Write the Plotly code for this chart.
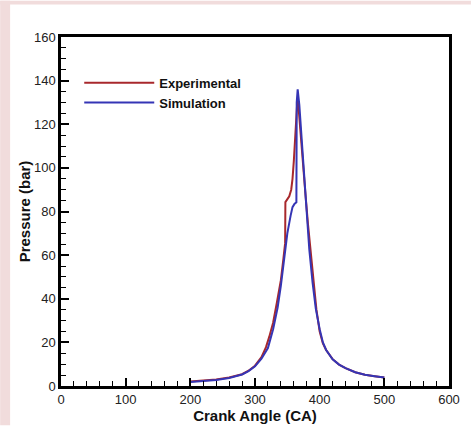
import plotly.graph_objects as go

# Cylinder pressure vs crank angle
sim_ca = [200, 220, 240, 260, 280, 290, 300, 310, 320, 328, 335, 340, 345, 350,
          355, 358, 361, 364, 364.5, 366, 368.5, 371, 374, 377, 380, 384, 389,
          394, 400, 405, 410, 420, 430, 440, 455, 470, 485, 500]
sim_p = [1.8, 2.2, 2.8, 3.7, 5.3, 6.8, 9.0, 12.5, 17.4, 26, 36, 46, 57, 70,
         78, 82, 83.5, 84.2, 130, 136, 129, 118, 103, 91, 79, 62.5, 47.5,
         35.5, 26, 20, 16.5, 12.2, 9.8, 8.2, 6.3, 5.2, 4.5, 3.9]

exp_ca = [200, 220, 240, 260, 280, 290, 300, 310, 317, 322, 328, 334, 340, 344,
          346.6, 347, 350, 353, 356, 358, 360, 361.5, 363.5, 365.5, 367, 370,
          374, 378, 382, 386, 390, 395, 400, 405, 410, 420, 430, 440, 455, 470,
          485, 500]
exp_p = [2.1, 2.4, 3.0, 3.9, 5.4, 7.0, 9.3, 13.2, 17.8, 22.5, 29, 38.5, 48.5, 58.5,
         65.5, 84.3, 85.5, 87, 90, 95, 103, 111, 124, 131, 129, 117,
         102, 88, 74, 61, 48, 35, 25, 19.5, 16.5, 12.3, 9.8, 8.2, 6.3, 5.2,
         4.5, 3.9]

W, H = 472, 432
ML, MR, MT, MB = 61, 22, 37, 40
PW, PH = W - ML - MR, H - MT - MB

fig = go.Figure()
fig.add_trace(go.Scatter(x=exp_ca, y=exp_p, mode="lines", name="Experimental",
                         line=dict(color="#a8282c", width=2)))
fig.add_trace(go.Scatter(x=sim_ca, y=sim_p, mode="lines", name="Simulation",
                         line=dict(color="#3535b5", width=2)))

pink = "#f1dcdc"
# page border strips
fig.add_shape(type="rect", xref="paper", yref="paper",
              x0=-ML / PW, x1=(10 - ML) / PW, y0=-MB / PH, y1=1 + MT / PH,
              fillcolor=pink, line=dict(width=0), layer="below")
fig.add_shape(type="rect", xref="paper", yref="paper",
              x0=-ML / PW, x1=1 + MR / PW, y0=1 + (MT - 4) / PH, y1=1 + MT / PH,
              fillcolor=pink, line=dict(width=0), layer="below")

axis_font = dict(family="Liberation Sans, Arial, sans-serif", size=13, color="#222")
title_font = dict(family="Liberation Sans, Arial, sans-serif", size=15, color="#111",
                  weight="bold")

fig.update_layout(
    width=W, height=H,
    margin=dict(l=ML, r=MR, t=MT, b=MB),
    paper_bgcolor="white", plot_bgcolor="white",
    showlegend=True,
    legend=dict(x=0.047, y=0.912, xanchor="left", yanchor="top",
                bgcolor="rgba(0,0,0,0)", itemwidth=70,
                font=dict(family="Liberation Sans, Arial, sans-serif", size=13,
                          color="#111", weight="bold"),
                tracegroupgap=0),
    xaxis=dict(range=[0, 600], dtick=100, showgrid=False, zeroline=False,
               showline=True, linecolor="black", linewidth=2.5, mirror=True,
               ticks="inside", ticklen=8, tickwidth=2, tickcolor="black",
               minor=dict(dtick=20, ticks="inside", ticklen=5, tickwidth=1,
                          tickcolor="black"),
               tickfont=axis_font,
               title=dict(text="Crank Angle (CA)", font=title_font, standoff=2)),
    yaxis=dict(range=[0, 160], dtick=20, showgrid=False, zeroline=False,
               showline=True, linecolor="black", linewidth=2.5, mirror=True,
               ticks="inside", ticklen=8, tickwidth=2, tickcolor="black",
               minor=dict(dtick=5, ticks="inside", ticklen=5, tickwidth=1,
                          tickcolor="black"),
               tickfont=axis_font,
               title=dict(text="Pressure (bar)", font=title_font, standoff=0)),
)

fig.write_html("out.html")
